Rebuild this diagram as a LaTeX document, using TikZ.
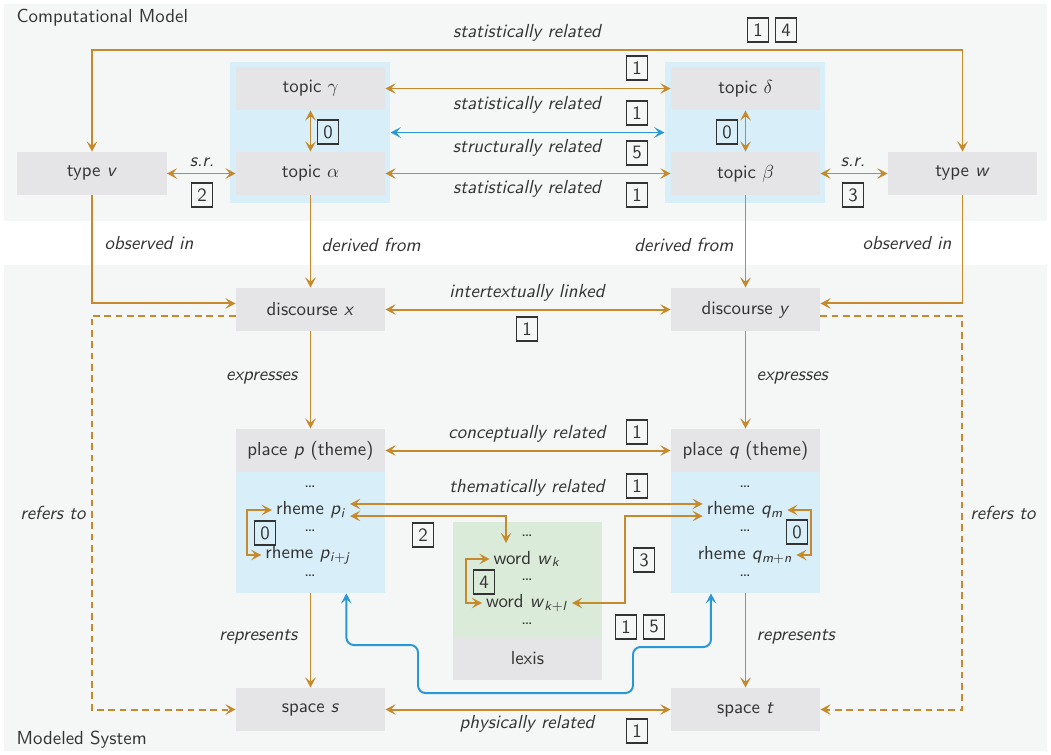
\documentclass[tikz,border=0pt]{standalone}
\usepackage{amsmath}
\usepackage{tikz}
\usetikzlibrary{arrows.meta}
\usetikzlibrary{calc}
\usetikzlibrary{positioning}

\definecolor{relorange}{RGB}{198,137,44}
\definecolor{strucblue}{RGB}{40,152,214}
\definecolor{boxgray}{RGB}{229,229,232}
\definecolor{topicblue}{RGB}{216,239,249}
\definecolor{lexgreen}{RGB}{219,235,217}
\definecolor{panelgray}{RGB}{245,247,247}
\definecolor{textgray}{RGB}{51,51,51}

\newcommand\var[1]{\textit{#1}}
\newcommand\sub[2]{\textit{#1}\textsubscript{#2}}

\tikzset{
  entity/.style={fill=boxgray, minimum width=79pt, minimum height=22.8pt, inner sep=0pt},
  grp/.style={fill=#1, inner sep=0pt},
  num/.style={draw=textgray, line width=0.7pt, minimum width=11pt, minimum height=12.7pt, inner sep=0pt},
  item/.style={inner sep=2pt},
  lbl/.style={font=\sffamily\itshape},
  rel/.style={draw=relorange, line width=1.05pt},
  struct/.style={draw=strucblue, line width=1.05pt, rounded corners=4pt},
}

\begin{document}
\begin{tikzpicture}[x=0.53pt, y=-0.53pt, font=\sffamily, text=textgray,
    >={Stealth[length=5.4pt,width=5.6pt,inset=2.3pt]}]
      \useasboundingbox (0,0) rectangle (1051,754);

      % panels
      \fill [panelgray] (4,4) rectangle (1047,221);
      \fill [panelgray] (4,265) rectangle (1047,751);
      \node [anchor=west] (cm) at (10,18) {Computational Model};
      \node [anchor=west] (ms) at (10,740) {Modeled System};

      % groups
      \node [grp=topicblue, minimum width=85pt, minimum height=74.7pt] (tgl) at (310,132.5) {};
      \node [grp=topicblue, minimum width=85pt, minimum height=74.7pt] (tgr) at (745,132.5) {};
      \node [grp=topicblue, minimum width=79pt, minimum height=64.1pt] (rhp) at (310.5,532.5) {};
      \node [grp=topicblue, minimum width=79pt, minimum height=64.1pt] (rhq) at (745.5,532.5) {};
      \node [grp=lexgreen, minimum width=79pt, minimum height=61pt] (lexg) at (527.5,579.5) {};

      % entities
      \node [entity] (tv) at (92,173.5) {type \var{v}};
      \node [entity] (tg) at (310.5,88.5) {topic $\gamma$};
      \node [entity] (ta) at (310.5,173.5) {topic $\alpha$};
      \node [entity] (td) at (745.5,88.5) {topic $\delta$};
      \node [entity] (tb) at (745.5,173.5) {topic $\beta$};
      \node [entity] (tw) at (962.5,173.5) {type \var{w}};
      \node [entity] (dx) at (310.5,309.5) {discourse \var{x}};
      \node [entity] (dy) at (745.5,309.5) {discourse \var{y}};
      \node [entity] (pp) at (310.5,450.5) {place \var{p} (theme)};
      \node [entity] (pq) at (745.5,450.5) {place \var{q} (theme)};
      \node [entity] (ss) at (310.5,709.5) {space \var{s}};
      \node [entity] (st) at (745.5,709.5) {space \var{t}};
      \node [entity] (lex) at (527.5,658.5) {lexis};

      % rhemes and words
      \foreach \y/\n in {487/a, 531/b, 576/c}{
          \node [item] (dp\n) at (310,\y) {\dots};
          \node [item] (dq\n) at (745,\y) {\dots};
        }
      \foreach \y/\n in {536/a, 580/b, 624/c}{
          \node [item] (dw\n) at (527,\y) {\dots};
        }
      \node [item] (rpi) at (311,510) {rheme \sub{p}{\textit{i}}};
      \node [item] (rpj) at (308,555) {rheme \sub{p}{\textit{i}+\textit{j}}};
      \node [item] (rqm) at (745,510) {rheme \sub{q}{\textit{m}}};
      \node [item] (rqn) at (745,555) {rheme \sub{q}{\textit{m}+\textit{n}}};
      \node [item] (wk) at (527,559) {word \sub{w}{\textit{k}}};
      \node [item] (wkl) at (527,603) {word \sub{w}{\textit{k}+\textit{l}}};

      % computational model
      \draw [rel,<->] (tv.north) -- ++(0,-102) -| (tw.north);
      \draw [rel,<->] (tg.east) -- (td.west);
      \draw [struct,<->] (tgl.east) -- (tgr.west);
      \draw [rel,<->] (ta.east) -- (tb.west);
      \draw [rel,<->] (tv.east) -- (ta.west);
      \draw [rel,<->] (tb.east) -- (tw.west);
      \draw [rel,<->] (tg.south) -- (ta.north);
      \draw [rel,<->] (td.south) -- (tb.north);

      \node [lbl] (l1) at (527,33) {statistically related};
      \node [lbl] (l2) at (527,105) {statistically related};
      \node [lbl] (l3) at (527,148) {structurally related};
      \node [lbl] (l4) at (527,189) {statistically related};
      \node [lbl] (l5) at (202,162) {s.r.};
      \node [lbl] (l6) at (853,162) {s.r.};

      \node [num] (n1) at (758,30) {1};
      \node [num] (n2) at (786,30) {4};
      \node [num] (n3) at (637,68) {1};
      \node [num] (n4) at (637,113) {1};
      \node [num] (n5) at (637,153) {5};
      \node [num] (n6) at (637,195) {1};
      \node [num] (n7) at (202,195) {2};
      \node [num] (n8) at (853,195) {3};
      \node [num] (n9) at (328,132) {0};
      \node [num] (n10) at (727,132) {0};

      % between model and system
      \draw [rel,->] (tv.south) |- ([yshift=3.2pt]dx.west);
      \draw [rel,->] (tw.south) |- ([yshift=3.2pt]dy.east);
      \draw [rel,->] (ta.south) -- (dx.north);
      \draw [rel,->] (tb.south) -- (dy.north);
      \node [lbl,anchor=west] (l7) at (98,243) {observed in};
      \node [lbl,anchor=west] (l8) at (315,245) {derived from};
      \node [lbl,anchor=east] (l9) at (740,245) {derived from};
      \node [lbl,anchor=east] (l10) at (958,243) {observed in};

      % modeled system
      \draw [rel,<->] (dx.east) -- (dy.west);
      \draw [rel,->,dash pattern=on 3.5pt off 2.5pt] ([yshift=-3.2pt]dx.west) -- ++(-144,0) |- (ss.west);
      \draw [rel,->,dash pattern=on 3.5pt off 2.5pt] ([yshift=-3.2pt]dy.east) -- ++(142,0) |- (st.east);
      \draw [rel,->] (dx.south) -- (pp.north);
      \draw [rel,->] (dy.south) -- (pq.north);
      \draw [rel,<->] (pp.east) -- (pq.west);
      \draw [rel,<->] ([yshift=3.2pt]rpi.east) -- ([yshift=3.2pt]rqm.west);
      \coordinate (wtop) at (506,543);
      \draw [rel,<->] ([yshift=-3.2pt]rpi.east) -| (wtop);
      \draw [rel,<->] ([yshift=-3.2pt]rqm.west) -| ([xshift=28pt]wkl.east) -- (wkl.east);
      \draw [rel,<->] (rpi.west) -- ++(-25,0) |- (rpj.west);
      \draw [rel,<->] (rqm.east) -- ++(24,0) |- (rqn.east);
      \draw [rel,<->] (wk.west) -- ++(-24,0) |- (wkl.west);
      \draw [rel,->] (rhp.south) -- (ss.north);
      \draw [rel,->] (rhq.south) -- (st.north);
      \draw [rel,<->] (ss.east) -- (st.west);
      \draw [struct,<->] ([xshift=19pt]rhp.south) |- (418,645) |- (633,693)
        -- (633,647) -| ([xshift=-18.3pt]rhq.south);

      \node [lbl] (l11) at (527,293) {intertextually linked};
      \node [lbl] (l12) at (527,434) {conceptually related};
      \node [lbl] (l13) at (527,488) {thematically related};
      \node [lbl] (l14) at (527,724) {physically related};
      \node [lbl] (l15) at (53,513) {refers to};
      \node [lbl] (l16) at (1003,513) {refers to};
      \node [lbl,anchor=east] (l17) at (304,378) {expresses};
      \node [lbl,anchor=west] (l18) at (750,378) {expresses};
      \node [lbl,anchor=east] (l19) at (304,637) {represents};
      \node [lbl,anchor=west] (l20) at (750,637) {represents};

      \node [num] (n11) at (527,329) {1};
      \node [num] (n12) at (637,432) {1};
      \node [num] (n13) at (637,486) {1};
      \node [num] (n14) at (423,535) {2};
      \node [num] (n15) at (644,560) {3};
      \node [num] (n16) at (265,533) {0};
      \node [num] (n17) at (797,532) {0};
      \node [num] (n18) at (484,582) {4};
      \node [num] (n19) at (626,627) {1};
      \node [num] (n20) at (654,627) {5};
      \node [num] (n21) at (637,731) {1};
    \end{tikzpicture}
\end{document}
